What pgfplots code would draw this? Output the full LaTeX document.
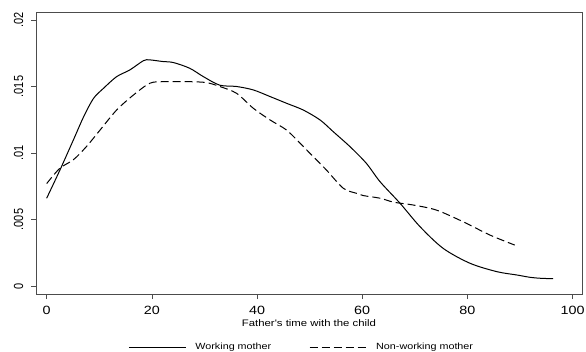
\documentclass[border=0pt]{standalone}
\usepackage{graphicx}
\usepackage{pgfplots}
\pgfplotsset{compat=1.18}
\usepackage{fontspec}
\setmainfont{Liberation Sans}
\newfontfamily\wf[FakeStretch=1.2]{Liberation Sans}
\pgfplotstableread{
x y
0 0.0066
2.5 0.0087
5.1 0.0110
7.0 0.0127
8.9 0.0141
10.8 0.01486
13.3 0.01574
15.8 0.01624
18.4 0.01694
19.6 0.0170
22 0.01688
24.1 0.0168
27.2 0.01637
29.8 0.01574
32.9 0.0151
36.1 0.0150
39.3 0.01474
42.5 0.01424
45.6 0.01374
48.8 0.01323
52 0.01248
54.5 0.0116
57.7 0.01047
60.8 0.00922
63.4 0.00784
67.2 0.00622
71 0.00446
75.4 0.00283
80.5 0.00171
85.6 0.00108
89.4 0.00083
92 0.00065
94 0.00058
96.3 0.00055
}\working
\pgfplotstableread{
x y
0 0.0077
2.5 0.00885
5.1 0.0095
7.6 0.0105
10.1 0.0117
13.3 0.01323
16.5 0.01436
19.6 0.01524
22.2 0.01536
27.2 0.01536
30.4 0.01529
32.9 0.0150
36.1 0.01449
39.3 0.01336
42.5 0.01248
45.6 0.01173
48.2 0.01073
50.7 0.00972
53.2 0.00872
56.4 0.00735
58.9 0.00697
60.2 0.00680
63.4 0.0066
66 0.0063
69.7 0.00609
74.1 0.00571
79.2 0.00483
84.3 0.00383
89 0.00308
}\nonworking
\begin{document}
\begin{tikzpicture}
\path[use as bounding box] (0,0) rectangle (586bp,352bp);
\begin{axis}[
  at={(36bp,58bp)}, anchor=south west,
  scale only axis, width=546bp, height=282bp,
  xmin=-2.03, xmax=101.8, ymin=-0.0006, ymax=0.0206,
  axis line style={black!70, line width=0.9bp},
  tick style={black!70, line width=0.6bp},
  tick align=outside, major tick length=5bp,
  xtick pos=bottom, ytick pos=left,
  xtick={0,20,40,60,80,100},
  xticklabels={0,20,40,60,80,100},
  ytick={0,0.005,0.01,0.015,0.02},
  yticklabels={\scalebox{1}[1.2]{0},\scalebox{1}[1.2]{.005},\scalebox{1}[1.2]{.01},\scalebox{1}[1.2]{.015},\scalebox{1}[1.2]{.02}},
  xticklabel style={font=\wf\fontsize{12}{14}\selectfont, inner sep=0pt, anchor=north},
  xticklabel shift=7bp,
  yticklabel style={font=\fontsize{11}{13}\selectfont, inner sep=0pt, rotate=90, anchor=south},
  yticklabel shift=7.5bp,
  scaled y ticks=false,
  xlabel={Father's time with the child},
  xlabel style={font=\wf\fontsize{9.5}{11}\selectfont, at={(axis description cs:0.5,0)}, anchor=base, yshift=-32bp},
  legend columns=2,
  legend style={at={(0.169,-0.188)}, anchor=west, draw=none, fill=none,
    font=\wf\fontsize{9}{11}\selectfont, inner sep=0pt,
    /tikz/every odd column/.append style={column sep=7bp},
    /tikz/every even column/.append style={column sep=36bp}},
  legend image code/.code={\draw[#1] (0bp,0bp) -- (57bp,0bp);},
]
\addplot[black, line width=1bp, smooth, tension=0.5] table {\working};
\addlegendentry{Working mother}
\addplot[black, line width=1bp, smooth, tension=0.5, dash pattern=on 8bp off 4bp] table {\nonworking};
\addlegendentry{Non-working mother}
\end{axis}
\end{tikzpicture}
\end{document}
